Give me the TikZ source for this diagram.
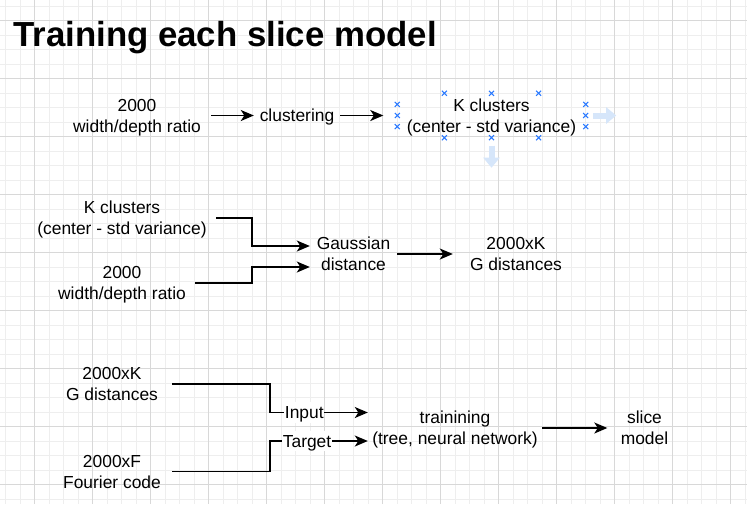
\documentclass[tikz,border=0pt]{standalone}
\usepackage{fontspec}
\setmainfont{Liberation Sans}
\usetikzlibrary{calc,arrows.meta}

\definecolor{gridminor}{RGB}{238,238,238}
\definecolor{gridmajor}{RGB}{216,216,216}
\definecolor{handle}{RGB}{41,121,255}
\definecolor{hover}{RGB}{214,230,250}

%% same height and depth for every line of text
\newcommand{\ls}{\rule[-4.2pt]{0pt}{20.8pt}}

\tikzset{
  txt/.style={align=center, inner sep=0pt, font=\fontsize{17.4}{21}\selectfont},
  conn/.style={line width=1.5pt, -{Stealth[length=13pt,width=11pt,inset=3.5pt]}},
  lbl/.style={fill=white, inner xsep=0.5pt, inner ysep=0pt, font=\fontsize{17.4}{21}\selectfont},
}

\begin{document}
\begin{tikzpicture}[x=1pt,y=-1pt]
  \useasboundingbox (0,0) rectangle (747,504);
  \fill[white] (0,0) rectangle (747,504);

  %% Background grid
  \foreach \i in {0,...,51}
    \draw[gridminor] (5.3+14.5*\i,0) -- (5.3+14.5*\i,504);
  \foreach \i in {0,...,34}
    \draw[gridminor] (0,5.8+14.5*\i) -- (747,5.8+14.5*\i);
  \foreach \i in {0,...,12}
    \draw[gridmajor] (34.3+58*\i,0) -- (34.3+58*\i,504);
  \foreach \i in {0,...,8}
    \draw[gridmajor] (0,20.3+58*\i) -- (747,20.3+58*\i);

  %% Title
  \node[anchor=base west, inner sep=0pt, font=\fontsize{34.8}{40}\selectfont\bfseries]
    (title) at (13,46.5) {Training each slice model};

  %% First row: clustering
  \node[txt, minimum width=148] (ratio1) at (137,115.5) {\ls 2000\\\ls width/depth ratio};
  \node[txt, minimum width=86] (clus) at (297,115.5) {\ls clustering};
  \node[txt, minimum width=188, minimum height=44] (kcl) at (491.5,115.5)
    {\ls K clusters\\\ls (center - std variance)};
  \draw[conn] (ratio1) -- (clus);
  \draw[conn] (clus) -- ($(kcl.west)+(-14,0)$);

  %% Selection handles and hover arrows
  \foreach \f in {0.25,0.5,0.75}
  {
    \foreach \a/\b in {north west/north east,south west/south east,north west/south west,north east/south east}
      \draw[handle, line width=1.1pt] ($(kcl.\a)!\f!(kcl.\b)$)
        +(-2.5,-2.5) -- +(2.5,2.5) +(-2.5,2.5) -- +(2.5,-2.5);
  }
  \draw[hover, line width=6pt, -{Triangle[length=10pt,width=16pt]}]
    ($(kcl.east)+(7.5,0)$) -- ++(23,0);
  \draw[hover, line width=6pt, -{Triangle[length=10pt,width=16pt]}]
    ($(kcl.south)+(0,8)$) -- ++(0,22);

  %% Second row: Gaussian distance
  \node[txt, minimum width=188] (kcl2) at (122,218) {\ls K clusters\\\ls (center - std variance)};
  \node[txt, minimum width=146] (ratio2) at (122,283) {\ls 2000\\\ls width/depth ratio};
  \node[txt, minimum width=87] (gauss) at (353.5,254) {\ls Gaussian\\\ls distance};
  \node[txt, minimum width=126] (gdist) at (516,254) {\ls 2000xK\\\ls G distances};
  \coordinate (join2) at ($(gauss.west)+(-58,0)$);
  \draw[conn] (kcl2.east) -- (kcl2.east -| join2) |- ($(gauss.west)+(0,-8)$);
  \draw[conn] (ratio2.east) -- (ratio2.east -| join2) |- ($(gauss.west)+(0,13)$);
  \draw[conn] (gauss) -- (gdist);

  %% Third row: training
  \node[txt, minimum width=120] (gdist3) at (112,384) {\ls 2000xK\\\ls G distances};
  \node[txt, minimum width=120] (four) at (112,471.5) {\ls 2000xF\\\ls Fourier code};
  \node[txt, minimum width=174] (train) at (455,428) {\ls trainining\\\ls (tree, neural network)};
  \node[txt, minimum width=74] (slice) at (644.5,428) {\ls slice\\\ls model};
  \coordinate (join3) at ($(train.west)+(-98,0)$);
  \draw[conn] (gdist3.east) -- (gdist3.east -| join3)
    |- node[lbl, pos=0.676] {\ls Input} ($(train.west)+(0,-15.5)$);
  \draw[conn] (four.east) -- (four.east -| join3)
    |- node[lbl, pos=0.69] {\ls Target} ($(train.west)+(0,13)$);
  \draw[conn] (train) -- (slice);
\end{tikzpicture}
\end{document}
